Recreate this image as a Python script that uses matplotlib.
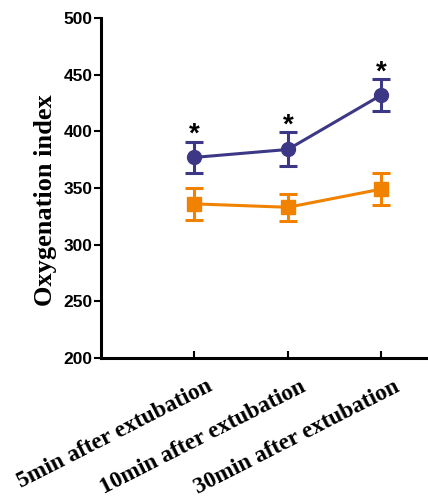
import numpy as np
import matplotlib.pyplot as plt
import matplotlib.transforms as mtransforms

# Data
timepoints = ['5min after extubation', '10min after extubation', '30min after extubation']
x_pos = [1, 2, 3]
group_a_mean = [377, 384, 432]
group_a_err = [14, 15, 14]
group_b_mean = [336, 333, 349]
group_b_err = [14, 12, 14]
star_labels = ['*', '*', '*']

blue = '#3d3886'
orange = '#f08200'

fig = plt.figure(figsize=(4.28, 4.98), dpi=100)
ax = fig.add_axes([101 / 428, 140 / 498, 327 / 428, 340 / 498])

# Orange series (squares)
ax.errorbar(x_pos, group_b_mean, yerr=group_b_err, color=orange, marker='s',
            markersize=10, lw=2.2, elinewidth=2.2, capsize=6.5, capthick=2.2,
            clip_on=False, zorder=3)

# Blue series (circles)
ax.errorbar(x_pos, group_a_mean, yerr=group_a_err, color=blue, marker='o',
            markersize=10, lw=2.2, elinewidth=2.2, capsize=6.5, capthick=2.2,
            clip_on=False, zorder=4)

# Significance stars above upper caps
for x, m, e, s in zip(x_pos, group_a_mean, group_a_err, star_labels):
    ax.text(x, m + e + 6, s, ha='center', va='center', fontsize=20,
            fontweight='bold', family='Liberation Sans')

ax.set_xlim(0, 3.5)
ax.set_ylim(200, 500)
ax.set_yticks(np.arange(200, 501, 50))
ax.set_xticks(x_pos)
ax.set_xticklabels([])

# Rotated category labels, drawn as text so they can be nudged
shift = mtransforms.ScaledTranslation(12 / 100, -18 / 100, fig.dpi_scale_trans)
for x, name in zip(x_pos, timepoints):
    ax.text(x, 0, name, transform=ax.get_xaxis_transform() + shift,
            rotation=27, ha='right', va='top', rotation_mode='anchor',
            fontsize=16.8, fontweight='bold', family='Liberation Serif')

for lbl in ax.get_yticklabels():
    lbl.set_fontsize(12.5)
    lbl.set_fontweight('bold')
    lbl.set_family('Liberation Sans')

ax.set_ylabel('Oxygenation index', fontsize=19, fontweight='bold',
              family='Liberation Serif')
ax.yaxis.set_label_coords(-0.135, 0.465)

# Axes styling
ax.spines['top'].set_visible(False)
ax.spines['right'].set_visible(False)
ax.spines['left'].set_linewidth(2.2)
ax.spines['bottom'].set_linewidth(2.2)
ax.tick_params(axis='y', width=1.5, length=5, pad=1)
ax.tick_params(axis='x', width=1.5, length=5, direction='in')

fig.savefig('out.png', dpi=100)
